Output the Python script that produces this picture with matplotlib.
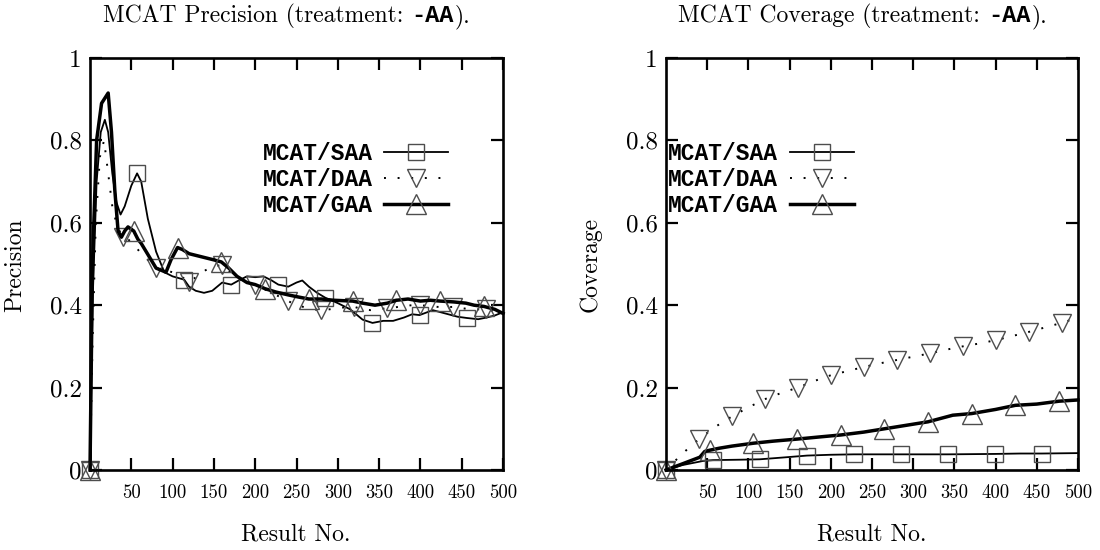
"""
MCAT precision / coverage over the ranked result list (treatment: -AA).

Two panels: precision (left) and coverage (right) for the SAA, DAA and
GAA variants, read off the original gnuplot figure.
"""

import matplotlib
matplotlib.use("Agg")
import matplotlib.pyplot as plt

# ── data ───────────────────────────────────────────────────────────────
SERIES = ["MCAT/SAA", "MCAT/DAA", "MCAT/GAA"]

saa_prec_x = [0, 3, 8, 13, 18, 22, 27, 32, 37, 42, 50, 57, 62, 70, 80, 90, 100,
              114, 120, 128, 138, 148, 160, 171, 180, 190, 200, 210, 220, 228,
              240, 250, 257, 265, 275, 285, 300, 315, 330, 342, 355, 367, 380,
              390, 399, 415, 430, 445, 456, 470, 480, 490, 500]
saa_prec_y = [0, 0.40, 0.70, 0.82, 0.85, 0.82, 0.72, 0.65, 0.62, 0.64, 0.69,
              0.72, 0.70, 0.61, 0.53, 0.48, 0.47, 0.462, 0.445, 0.435, 0.43,
              0.435, 0.455, 0.45, 0.46, 0.47, 0.468, 0.47, 0.46, 0.45, 0.445,
              0.455, 0.46, 0.445, 0.43, 0.418, 0.405, 0.39, 0.365, 0.357,
              0.362, 0.362, 0.37, 0.378, 0.376, 0.388, 0.38, 0.372, 0.369,
              0.366, 0.37, 0.375, 0.383]

daa_prec_x = [0, 3, 7, 12, 17, 22, 27, 33, 40, 46, 52, 60, 70, 80, 90, 100, 110,
              120, 130, 140, 150, 160, 170, 180, 190, 200, 210, 220, 230, 240,
              250, 260, 270, 280, 290, 300, 310, 320, 330, 340, 350, 360, 370,
              380, 390, 400, 410, 420, 430, 440, 450, 460, 470, 480, 490, 500]
daa_prec_y = [0, 0.30, 0.60, 0.76, 0.80, 0.72, 0.64, 0.59, 0.565, 0.56, 0.55,
              0.53, 0.51, 0.49, 0.485, 0.48, 0.47, 0.457, 0.47, 0.485, 0.495,
              0.497, 0.48, 0.465, 0.455, 0.449, 0.44, 0.43, 0.42, 0.41, 0.40,
              0.395, 0.39, 0.388, 0.39, 0.393, 0.395, 0.396, 0.39, 0.388, 0.39,
              0.393, 0.395, 0.398, 0.40, 0.40, 0.398, 0.396, 0.395, 0.396,
              0.393, 0.39, 0.39, 0.39, 0.385, 0.38]

gaa_prec_x = [0, 3, 8, 14, 22, 26, 30, 34, 38, 42, 46, 53, 58, 62, 68, 74, 80,
              86, 92, 98, 106, 112, 120, 130, 140, 150, 159, 168, 178, 190, 200,
              212, 225, 240, 252, 265, 280, 295, 318, 330, 345, 360, 371, 385,
              400, 412, 424, 440, 455, 465, 477, 490, 500]
gaa_prec_y = [0, 0.50, 0.80, 0.89, 0.915, 0.82, 0.68, 0.58, 0.565, 0.58, 0.59,
              0.58, 0.56, 0.55, 0.53, 0.51, 0.49, 0.485, 0.48, 0.51, 0.54,
              0.535, 0.525, 0.52, 0.515, 0.51, 0.505, 0.49, 0.47, 0.455, 0.45,
              0.44, 0.432, 0.425, 0.42, 0.415, 0.415, 0.412, 0.41, 0.405, 0.40,
              0.405, 0.412, 0.415, 0.41, 0.412, 0.41, 0.408, 0.405, 0.40,
              0.397, 0.39, 0.38]

saa_cov_x = [0, 20, 45, 57, 90, 114, 140, 165, 171, 200, 228, 285, 342, 399,
             430, 456, 500]
saa_cov_y = [0, 0.012, 0.022, 0.024, 0.025, 0.026, 0.03, 0.034, 0.035, 0.037,
             0.038, 0.038, 0.038, 0.039, 0.04, 0.04, 0.041]

daa_cov_x = [0, 20, 40, 60, 80, 100, 120, 140, 160, 180, 200, 220, 240, 260,
             280, 300, 320, 340, 360, 380, 400, 420, 440, 460, 480, 500]
daa_cov_y = [0, 0.04, 0.075, 0.105, 0.13, 0.152, 0.172, 0.187, 0.2, 0.216, 0.23,
             0.24, 0.25, 0.259, 0.267, 0.275, 0.283, 0.292, 0.30, 0.307, 0.315,
             0.325, 0.335, 0.346, 0.357, 0.37]

gaa_cov_x = [0, 20, 41, 47, 53, 65, 80, 106, 130, 159, 185, 212, 240, 265, 290,
             318, 348, 371, 400, 424, 450, 477, 500]
gaa_cov_y = [0, 0.015, 0.031, 0.045, 0.048, 0.053, 0.058, 0.065, 0.07, 0.075,
             0.08, 0.085, 0.092, 0.10, 0.108, 0.117, 0.133, 0.137, 0.147, 0.157,
             0.16, 0.167, 0.17]

# where gnuplot dropped a point symbol on each curve
saa_marks = [0, 57, 114, 171, 228, 285, 342, 399, 456]
daa_marks = [0, 40, 80, 120, 160, 200, 240, 280, 320, 360, 400, 440, 480]
gaa_marks = [0, 53, 106, 159, 212, 265, 318, 371, 424, 477]

x_ticks = [50, 100, 150, 200, 250, 300, 350, 400, 450, 500]
y_ticks = [0, 0.2, 0.4, 0.6, 0.8, 1]
y_tick_labels = ["0", "0.2", "0.4", "0.6", "0.8", "1"]

W, H = 1100, 550
SERIF = dict(family="cmr10")
MONO = dict(family="Liberation Mono", weight="bold")

STYLES = {
    "MCAT/SAA": dict(color="black", lw=1.3, ls="-", marker="s", ms=12),
    "MCAT/DAA": dict(color="black", lw=1.4, ls=(0, (1, 6)), marker="v", ms=13),
    "MCAT/GAA": dict(color="black", lw=2.5, ls="-", marker="^", ms=14),
}


def _px(x, y):
    """pixel (from top-left) -> figure fraction"""
    return x / W, 1 - y / H


def _panel(ax, curves, legend_loc, legend_anchor):
    for name, xs, ys, marks in curves:
        st = STYLES[name]
        idx = [xs.index(m) for m in marks]
        ax.plot(xs, ys, color=st["color"], lw=st["lw"], ls=st["ls"],
                marker=st["marker"], ms=st["ms"], markevery=idx,
                mfc="none", mec="0.3", mew=1.0, clip_on=False, label=name)
    ax.set_xlim(0, 500); ax.set_ylim(0, 1)
    ax.set_xticks(x_ticks)
    ax.set_xticklabels([str(t) for t in x_ticks], fontsize=13.5, **SERIF)
    ax.set_yticks(y_ticks)
    ax.set_yticklabels(y_tick_labels, fontsize=18, **SERIF)
    ax.tick_params(direction="in", length=8.5, width=1.6, top=True,
                   right=True, pad=6)
    ax.tick_params(axis="x", pad=10)
    for s in ax.spines.values():
        s.set_linewidth(1.9)
    leg = ax.legend(loc=legend_loc, bbox_to_anchor=legend_anchor,
                    markerfirst=False, frameon=False, numpoints=1,
                    handlelength=2.8, handletextpad=0.5, labelspacing=0.12,
                    borderpad=0, borderaxespad=0,
                    prop=dict(family="Liberation Mono", weight="bold",
                              size=16.5))
    return leg


def _title(fig, x_px, head):
    """mixed-font title: roman text + bold typewriter -AA + roman tail"""
    renderer = fig.canvas.get_renderer()
    x = x_px
    y = 1 - 22 / H
    for text, font, gap in ((head, SERIF, 8), ("-AA", MONO, 1), (").", SERIF, 0)):
        t = fig.text(x / W, y, text, va="baseline", ha="left", fontsize=17,
                     **font)
        bb = t.get_window_extent(renderer)
        x = bb.x1 + gap


def main():
    fig = plt.figure(figsize=(W / 100, H / 100), dpi=100)
    ax1 = fig.add_axes([90 / W, 80 / H, 413 / W, 412 / H])
    ax2 = fig.add_axes([666 / W, 80 / H, 412 / W, 412 / H])

    _panel(ax1, [("MCAT/SAA", saa_prec_x, saa_prec_y, saa_marks),
                 ("MCAT/DAA", daa_prec_x, daa_prec_y, daa_marks),
                 ("MCAT/GAA", gaa_prec_x, gaa_prec_y, gaa_marks)],
           "upper right", (0.867, 0.795))
    _panel(ax2, [("MCAT/SAA", saa_cov_x, saa_cov_y, saa_marks),
                 ("MCAT/DAA", daa_cov_x, daa_cov_y, daa_marks),
                 ("MCAT/GAA", gaa_cov_x, gaa_cov_y, gaa_marks)],
           "upper left", (0.005, 0.795))

    # axis labels placed where gnuplot put them
    fig.text(*_px(15, 265), "Precision", rotation=90, ha="center",
             va="center", fontsize=17, **SERIF)
    fig.text(*_px(590, 265), "Coverage", rotation=90, ha="center",
             va="center", fontsize=17, **SERIF)
    fig.text(*_px(296, 534), "Result No.", ha="center", va="center",
             fontsize=17, **SERIF)
    fig.text(*_px(872, 534), "Result No.", ha="center", va="center",
             fontsize=17, **SERIF)

    fig.canvas.draw()
    _title(fig, 103, "MCAT Precision (treatment:")
    _title(fig, 678, "MCAT Coverage (treatment:")

    fig.savefig("out.png", dpi=100)


if __name__ == "__main__":
    main()
